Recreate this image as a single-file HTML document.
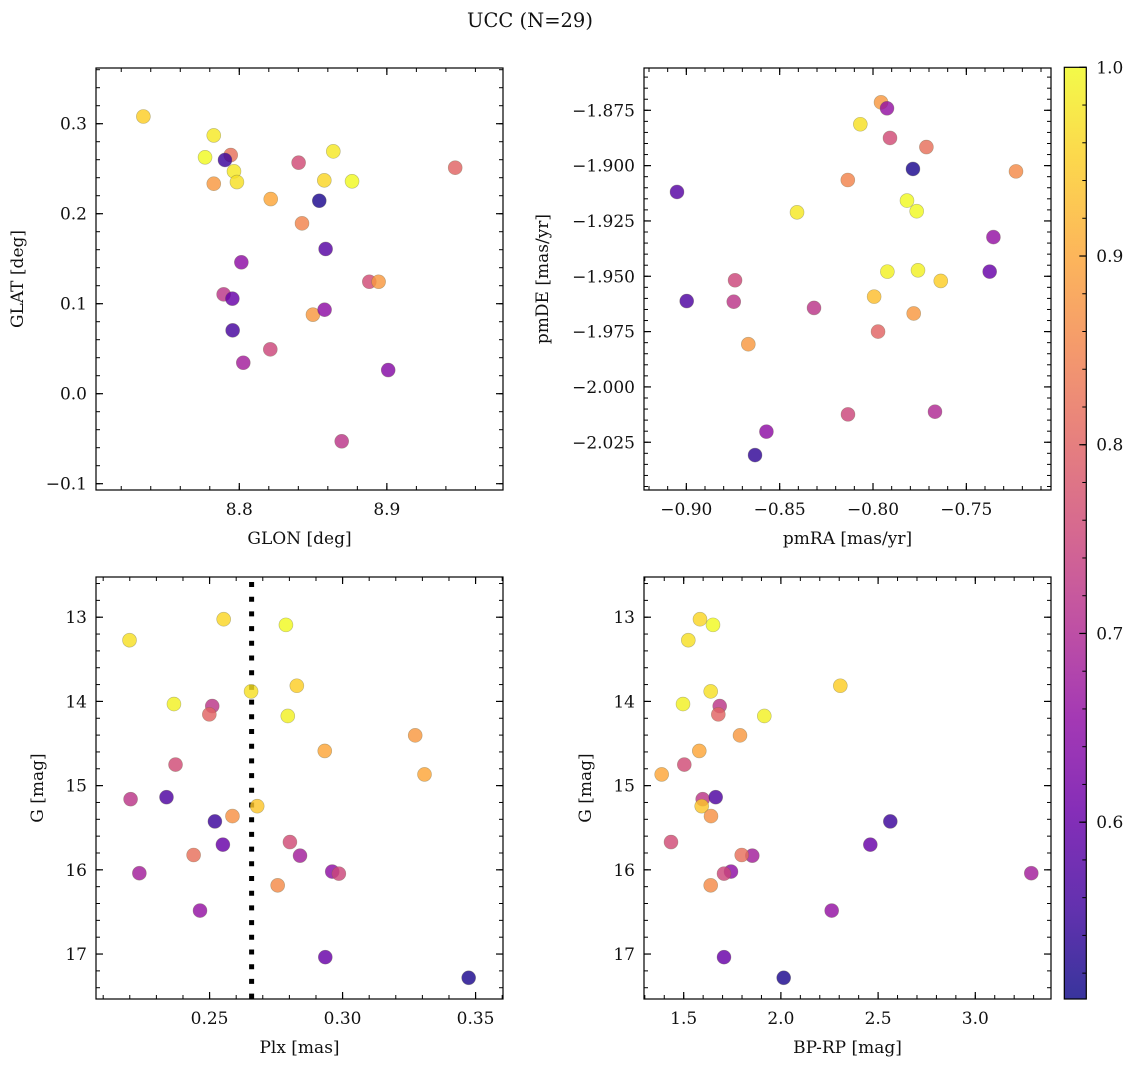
<!DOCTYPE html>
<html><head><meta charset="utf-8">
<style>
html,body{margin:0;padding:0;background:#fff;}
svg{display:block;font-family:"DejaVu Serif","Liberation Serif",serif;}
</style></head>
<body>
<svg id="fig" width="1136" height="1067" viewBox="0 0 1136 1067" xmlns="http://www.w3.org/2000/svg">
<defs>
<linearGradient id="cbgrad" x1="0" y1="1" x2="0" y2="0"></linearGradient>
</defs>
<text x="530" y="27" text-anchor="middle" font-size="19.5" fill="#111">UCC (N=29)</text>
</svg>
<script>
// ---- data ----
const prob = [0.95,0.98,1.0,0.82,0.55,0.98,0.88,0.97,0.9,0.76,0.98,0.96,1.0,0.8,0.52,0.85,0.58,0.65,0.76,0.88,0.72,0.6,0.88,0.65,0.56,0.75,0.68,0.64,0.72];
const glon = [8.735,8.7827,8.7768,8.7942,8.7903,8.7964,8.7827,8.7984,8.8213,8.8402,8.8637,8.8576,8.8764,8.9463,8.8542,8.8425,8.8585,8.8014,8.8881,8.8944,8.7894,8.7953,8.8499,8.8578,8.7955,8.821,8.8027,8.9009,8.8694];
const glat = [0.308,0.287,0.2627,0.2652,0.2597,0.2471,0.2333,0.2352,0.2163,0.2567,0.2693,0.2371,0.236,0.2511,0.2144,0.1893,0.1608,0.146,0.1244,0.1244,0.1104,0.1056,0.0878,0.0933,0.0704,0.0493,0.0344,0.0263,-0.0529];

const probPM = [0.88,0.66,0.97,0.76,0.82,0.52,0.86,0.85,0.58,1.0,1.0,0.98,0.66,0.6,0.99,0.99,0.95,0.75,0.57,0.72,0.72,0.93,0.88,0.8,0.88,0.75,0.7,0.65,0.54];
const pmra = [-0.7957,-0.7925,-0.8068,-0.7909,-0.7714,-0.7786,-0.7234,-0.8135,-0.905,-0.7818,-0.7766,-0.8407,-0.7355,-0.7375,-0.7923,-0.7759,-0.7637,-0.8739,-0.8998,-0.8746,-0.8316,-0.7994,-0.7782,-0.7973,-0.8668,-0.8134,-0.7668,-0.8571,-0.8632];
const pmde = [-1.8714,-1.8741,-1.8813,-1.8875,-1.8916,-1.9015,-1.9026,-1.9065,-1.9119,-1.9158,-1.9206,-1.9211,-1.9323,-1.9479,-1.9479,-1.9473,-1.9521,-1.9518,-1.9612,-1.9615,-1.9643,-1.9592,-1.9668,-1.975,-1.9807,-2.0124,-2.0112,-2.0202,-2.0308];

const probG = [0.97,0.96,1.0,0.97,0.95,0.99,0.72,0.8,0.99,0.88,0.9,0.9,0.76,0.72,0.57,0.94,0.87,0.55,0.6,0.76,0.68,0.82,0.68,0.65,0.75,0.86,0.66,0.6,0.52];
const gmag = [13.273,13.024,13.091,13.881,13.814,14.031,14.055,14.154,14.173,14.403,14.588,14.867,14.75,15.161,15.137,15.244,15.362,15.425,15.701,15.67,15.832,15.824,16.04,16.021,16.045,16.184,16.484,17.037,17.282];
const plx = [0.2199,0.2553,0.2787,0.2656,0.2828,0.2366,0.251,0.2499,0.2794,0.3273,0.2933,0.3308,0.2372,0.2203,0.2338,0.2679,0.2586,0.252,0.255,0.2802,0.284,0.244,0.2236,0.2961,0.2986,0.2756,0.2464,0.2935,0.3474];
const bprp = [1.5237,1.5838,1.6507,1.6389,2.3056,1.4964,1.6852,1.678,1.9146,1.7896,1.5802,1.3868,1.5031,1.5977,1.6646,1.5926,1.6404,2.5628,2.46,1.4347,1.8529,1.7984,3.288,1.7433,1.7073,1.6389,2.2613,1.7073,2.0144];
const plxLine = [0.2658];

const cbTicks = [0.6,0.7,0.8,0.9,1.0];
const vmin = 0.5063, vmax = 1.0;

// ---- helpers ----
const NS = "http://www.w3.org/2000/svg";
const svg = document.getElementById("fig");
const FS = 17;
function el(tag, attrs, parent){const e=document.createElementNS(NS,tag);for(const k in attrs)e.setAttribute(k,attrs[k]);(parent||svg).appendChild(e);return e;}
const plasma=[[13,8,135],[65,4,157],[106,0,168],[143,13,164],[177,42,144],[204,71,120],[225,100,98],[242,132,75],[252,166,54],[252,206,37],[240,249,33]];
function cmap(v){let t=(v-vmin)/(vmax-vmin);t=Math.max(0,Math.min(1,t));const f=t*10,i=Math.min(9,Math.floor(f)),r=f-i;const a=plasma[i],b=plasma[i+1];return `rgb(${Math.round(a[0]+(b[0]-a[0])*r)},${Math.round(a[1]+(b[1]-a[1])*r)},${Math.round(a[2]+(b[2]-a[2])*r)})`;}
function range(a,b,s){const o=[];for(let v=a;v<=b+s*1e-6;v+=s)o.push(Math.round(v/s)*s);return o;}

function panel(cfg){
  const g=el("g",{});
  
  
  const {x,y,w,h}=cfg.box;
  const sx=v=>x+(v-cfg.xd[0])/(cfg.xd[1]-cfg.xd[0])*w;
  const sy=v=>cfg.yinv? y+(v-cfg.yd[0])/(cfg.yd[1]-cfg.yd[0])*h : y+h-(v-cfg.yd[0])/(cfg.yd[1]-cfg.yd[0])*h;
  if(cfg.vline){cfg.vline.forEach(v=>{const l=el("line",{x1:sx(v),x2:sx(v),y1:y+5,y2:y+h,stroke:"#000","stroke-width":5,"stroke-dasharray":"5 9.7"},g);
    
    });}
  for(let i=0;i<cfg.xs.length;i++){
    const c=el("circle",{cx:sx(cfg.xs[i]),cy:sy(cfg.ys[i]),r:7,fill:cmap(cfg.c[i]),"fill-opacity":0.82,stroke:"#6b6b4a","stroke-opacity":0.45,"stroke-width":0.6},g);
    
    
  }
  const fr=el("rect",{x:x,y:y,width:w,height:h,fill:"none",stroke:"#000","stroke-width":1.2},g);
  
  
  cfg.xminor.forEach(v=>{const px=sx(v);if(px<x||px>x+w)return;el("line",{x1:px,x2:px,y1:y+h,y2:y+h-4,stroke:"#000","stroke-width":1},g);el("line",{x1:px,x2:px,y1:y,y2:y+4,stroke:"#000","stroke-width":1},g);});
  cfg.xmajor.forEach((v,i)=>{const px=sx(v);el("line",{x1:px,x2:px,y1:y+h,y2:y+h-7,stroke:"#000","stroke-width":1.2},g);el("line",{x1:px,x2:px,y1:y,y2:y+7,stroke:"#000","stroke-width":1.2},g);
    const t=el("text",{x:px,y:y+h+25,"text-anchor":"middle","font-size":FS,fill:"#111"},g);t.textContent=cfg.xlab[i];
    
    });
  cfg.yminor.forEach(v=>{const py=sy(v);if(py<y||py>y+h)return;el("line",{x1:x,x2:x+4,y1:py,y2:py,stroke:"#000","stroke-width":1},g);el("line",{x1:x+w,x2:x+w-4,y1:py,y2:py,stroke:"#000","stroke-width":1},g);});
  cfg.ymajor.forEach((v,i)=>{const py=sy(v);el("line",{x1:x,x2:x+7,y1:py,y2:py,stroke:"#000","stroke-width":1.2},g);el("line",{x1:x+w,x2:x+w-7,y1:py,y2:py,stroke:"#000","stroke-width":1.2},g);
    const t=el("text",{x:x-9,y:py+6,"text-anchor":"end","font-size":FS,fill:"#111"},g);t.textContent=cfg.ylab[i];
    
    });
  const xt=el("text",{x:x+w/2,y:y+h+54,"text-anchor":"middle","font-size":FS,fill:"#111"},g);xt.textContent=cfg.xtitle;
  
  
  const yt=el("text",{x:cfg.ytx,y:y+h/2,"text-anchor":"middle","font-size":FS,fill:"#111",transform:`rotate(-90 ${cfg.ytx} ${y+h/2})`},g);yt.textContent=cfg.ytitle;
  
  
}

panel({name:"glon-glat-panel",box:{x:96,y:68,w:407,h:422},xd:[8.7029,8.9787],yd:[-0.107,0.3619],
  xs:glon,ys:glat,c:prob,xmajor:[8.8,8.9],xlab:["8.8","8.9"],xminor:range(8.70,8.98,0.02),
  ymajor:[-0.1,0,0.1,0.2,0.3],ylab:["\u22120.1","0.0","0.1","0.2","0.3"],yminor:range(-0.1,0.36,0.02),
  xtitle:"GLON [deg]",ytitle:"GLAT [deg]",ytx:23});
panel({name:"pm-panel",box:{x:644,y:68,w:407,h:422},xd:[-0.92268,-0.92268+407/1866.7],yd:[-1.875-(422-42.3)/2213,-1.875+42.3/2213],
  xs:pmra,ys:pmde,c:probPM,xmajor:[-0.9,-0.85,-0.8,-0.75],xlab:["\u22120.90","\u22120.85","\u22120.80","\u22120.75"],xminor:range(-0.92,-0.70,0.01),
  ymajor:[-2.025,-2.0,-1.975,-1.95,-1.925,-1.9,-1.875],ylab:["\u22122.025","\u22122.000","\u22121.975","\u22121.950","\u22121.925","\u22121.900","\u22121.875"],yminor:range(-2.045,-1.855,0.005),
  xtitle:"pmRA [mas/yr]",ytitle:"pmDE [mas/yr]",ytx:548});
panel({name:"plx-g-panel",box:{x:96,y:577,w:407,h:422},xd:[0.2073,0.2073+407/2660],yd:[12.5225,17.534],yinv:true,
  xs:plx,ys:gmag,c:probG,vline:plxLine,xmajor:[0.25,0.30,0.35],xlab:["0.25","0.30","0.35"],xminor:range(0.21,0.36,0.01),
  ymajor:[13,14,15,16,17],ylab:["13","14","15","16","17"],yminor:range(12.6,17.4,0.2),
  xtitle:"Plx [mas]",ytitle:"G [mag]",ytx:43});
panel({name:"cmd-panel",box:{x:644,y:577,w:407,h:422},xd:[1.2958,1.2958+407/194.4],yd:[12.5225,17.534],yinv:true,
  xs:bprp,ys:gmag,c:probG,xmajor:[1.5,2.0,2.5,3.0],xlab:["1.5","2.0","2.5","3.0"],xminor:range(1.3,3.3,0.1),
  ymajor:[13,14,15,16,17],ylab:["13","14","15","16","17"],yminor:range(12.6,17.4,0.2),
  xtitle:"BP-RP [mag]",ytitle:"G [mag]",ytx:591});

// colorbar
const grad=document.getElementById("cbgrad");
for(let i=0;i<=20;i++){const v=vmin+(vmax-vmin)*i/20;el("stop",{offset:(i/20),"stop-color":cmap(v)},grad);}
const cbX=1064.3,cbY=67.3,cbW=22,cbH=931.7;
const cby=v=>cbY+cbH-(v-vmin)/(vmax-vmin)*cbH;
const cb=el("rect",{x:cbX,y:cbY,width:cbW,height:cbH,fill:"url(#cbgrad)","fill-opacity":0.82,stroke:"#000","stroke-width":1.2});


range(0.52,1.0,0.02).forEach(v=>{el("line",{x1:cbX+cbW,x2:cbX+cbW-4,y1:cby(v),y2:cby(v),stroke:"#000","stroke-width":1});});
cbTicks.forEach(v=>{const py=cby(v);el("line",{x1:cbX+cbW,x2:cbX+cbW-7,y1:py,y2:py,stroke:"#000","stroke-width":1.2});
  const t=el("text",{x:cbX+cbW+10,y:py+6,"font-size":FS,fill:"#111"});t.textContent=v.toFixed(1);
  
  });
</script>
</body></html>
